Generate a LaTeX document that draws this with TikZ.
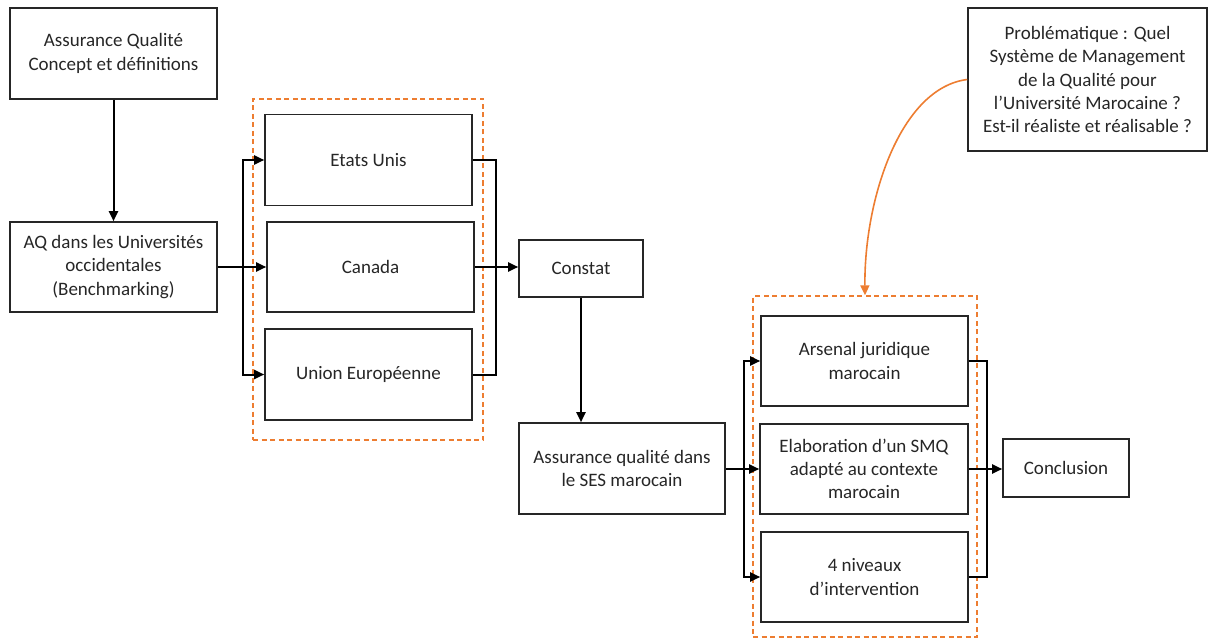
\documentclass[tikz,border=0pt]{standalone}
\usepackage{fontspec}
\setmainfont{Carlito}
\usetikzlibrary{arrows.meta}
\definecolor{offorange}{RGB}{237,125,49}
\definecolor{txt}{RGB}{38,38,38}
\tikzset{
  box/.style={draw=black!85, line width=1.6pt, align=center, text=txt,
    font=\fontsize{19}{23.3}\selectfont, inner sep=2pt},
  grp/.style={draw=offorange, line width=1.4pt, dash pattern=on 5pt off 3.5pt},
  conn/.style={draw=black, line width=2pt},
  arr/.style={conn, -{Triangle[length=10pt,width=9pt]}},
  oarr/.style={draw=offorange, line width=1.6pt, -{Triangle[length=10pt,width=9pt]}}
}
\begin{document}
\begin{tikzpicture}[x=1pt,y=-1pt]
\useasboundingbox (0,0) rectangle (1209,639);
% groups
\node[grp, minimum width=230, minimum height=341] (G1) at (368,269.5) {};
\node[grp, minimum width=224, minimum height=341] (G2) at (865,466.5) {};
% boxes
\node[box, minimum width=207, minimum height=91] (A) at (113.5,53.5) {Assurance Qualité\\Concept et définitions};
\node[box, minimum width=207, minimum height=90] (B) at (113.5,267) {AQ dans les Universités\\occidentales\\(Benchmarking)};
\node[box, minimum width=207, minimum height=91] (EU) at (368.5,160) {Etats Unis};
\node[box, minimum width=207, minimum height=90] (CA) at (370.5,267) {Canada};
\node[box, minimum width=207, minimum height=91] (UE) at (368.5,374.5) {Union Européenne};
\node[box, minimum width=124, minimum height=57] (CST) at (581,268.5) {Constat};
\node[box, minimum width=206, minimum height=91] (SES) at (622,468.5) {Assurance qualité dans\\le SES marocain};
\node[box, minimum width=207, minimum height=90] (ARS) at (864.5,361) {Arsenal juridique\\marocain};
\node[box, minimum width=208, minimum height=90] (ELA) at (864,469) {Elaboration d’un SMQ\\adapté au contexte\\marocain};
\node[box, minimum width=207, minimum height=90] (NIV) at (864.5,577) {4 niveaux\\d’intervention};
\node[box, minimum width=126, minimum height=58] (CON) at (1066,468) {Conclusion};
\node[box, minimum width=239, minimum height=143] (P) at (1087.5,79.5) {Problématique : Quel\\Système de Management\\de la Qualité pour\\l’Université Marocaine ?\\Est-il réaliste et réalisable ?};
% connectors
\draw[arr] (A.south) -- (B.north);
\draw[conn] (B.east) -- ++(25,0) coordinate (j1);
\draw[arr] (j1) |- (EU.west);
\draw[arr] (j1) -- (CA.west);
\draw[arr] (j1) |- (UE.west);
\draw[conn] (EU.east) -| ++(23,107) coordinate (j2);
\draw[conn] (UE.east) -| (j2);
\draw[arr] (CA.east) -- (CA.east -| CST.west);
\draw[arr] (CST.south) -- (CST.south |- SES.north);
\draw[conn] (SES.east) -- ++(18,0) coordinate (j3);
\draw[arr] (j3) |- (ARS.west);
\draw[arr] (j3) -- (j3 |- ELA.west) -- (ELA.west);
\draw[arr] (j3) |- (NIV.west);
\draw[conn] (ARS.east) -| ++(18,108) coordinate (j4);
\draw[conn] (NIV.east) -| (j4);
\draw[arr] (ELA.east) -- (ELA.east -| CON.west);
\draw[oarr] (P.west) .. controls (900,88) and (864,200) .. (G2.north);
\end{tikzpicture}
\end{document}
